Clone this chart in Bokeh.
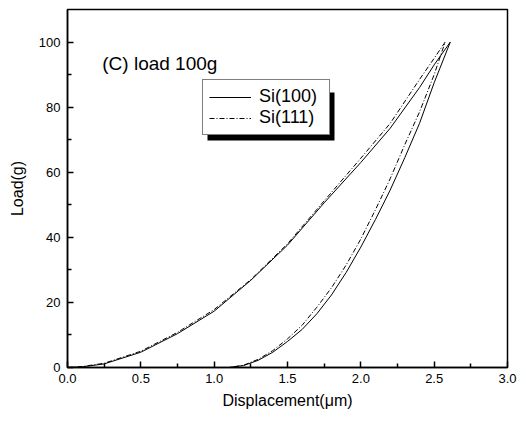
from bokeh.plotting import figure
from bokeh.models import Range1d, FixedTicker, Legend, LegendItem, Label, BoxAnnotation
from bokeh.embed import file_html
from bokeh.resources import INLINE

# Loading / unloading curves (displacement in um, load in g)
load_x_100 = [0.0, 0.1, 0.25, 0.5, 0.75, 1.0, 1.25, 1.5, 1.75, 2.0, 2.2, 2.4, 2.5, 2.61]
load_y_100 = [0.0, 0.2, 1.1, 4.7, 10.4, 17.3, 26.8, 37.6, 50.6, 63.0, 73.5, 86.0, 93.0, 100.0]
unload_x_100 = [2.61, 2.5, 2.4, 2.3, 2.2, 2.1, 2.0, 1.9, 1.8, 1.7, 1.6, 1.5, 1.4, 1.3, 1.2, 1.1]
unload_y_100 = [100.0, 87.5, 75.0, 64.5, 54.5, 45.5, 37.0, 29.2, 22.3, 16.5, 11.7, 8.0, 4.7, 2.2, 0.6, 0.0]

load_x_111 = [0.0, 0.1, 0.25, 0.5, 0.75, 1.0, 1.25, 1.5, 1.75, 2.0, 2.2, 2.4, 2.5, 2.575]
load_y_111 = [0.0, 0.3, 1.3, 5.0, 10.8, 17.8, 27.0, 38.0, 51.2, 64.3, 75.0, 88.5, 95.0, 100.0]
unload_x_111 = [2.575, 2.5, 2.4, 2.3, 2.2, 2.1, 2.0, 1.9, 1.8, 1.7, 1.6, 1.5, 1.4, 1.3, 1.2, 1.1]
unload_y_111 = [100.0, 90.0, 78.5, 68.5, 58.0, 48.5, 39.5, 31.5, 24.5, 18.5, 13.0, 8.8, 5.2, 2.5, 0.7, 0.0]

series_names = ["Si(100)", "Si(111)"]
x_ticks = [0.0, 0.5, 1.0, 1.5, 2.0, 2.5, 3.0]
x_minor = [0.25, 0.75, 1.25, 1.75, 2.25, 2.75]
y_ticks = [0, 20, 40, 60, 80, 100]
y_minor = [10, 30, 50, 70, 90]

FONT = "Liberation Sans"

p = figure(width=524, height=420, output_backend="svg", toolbar_location=None,
           x_range=Range1d(0, 3), y_range=Range1d(0, 110),
           min_border_left=67, min_border_right=17, min_border_top=9, min_border_bottom=53)
p.grid.visible = False
p.outline_line_color = "black"
p.outline_line_width = 1.5
p.background_fill_color = "white"

r1 = p.line(load_x_100 + unload_x_100[1:], load_y_100 + unload_y_100[1:],
            line_color="black", line_width=1)
r2 = p.line(load_x_111 + unload_x_111[1:], load_y_111 + unload_y_111[1:],
            line_color="black", line_width=1, line_dash="5 2 1 2")

p.xaxis.ticker = FixedTicker(ticks=x_ticks, minor_ticks=x_minor)
p.yaxis.ticker = FixedTicker(ticks=y_ticks, minor_ticks=y_minor)
p.xaxis.major_label_overrides = {t: f"{t:.1f}" for t in x_ticks}

for ax in (p.xaxis[0], p.yaxis[0]):
    ax.axis_line_width = 1.5
    ax.axis_line_color = "black"
    ax.major_tick_in = 6
    ax.major_tick_out = 0
    ax.minor_tick_in = 4
    ax.minor_tick_out = 0
    ax.major_tick_line_width = 1.5
    ax.minor_tick_line_width = 1.5
    ax.major_label_text_font = FONT
    ax.major_label_text_font_size = "13px"
    ax.major_label_text_color = "black"
    ax.axis_label_text_font = FONT
    ax.axis_label_text_font_size = "16px"
    ax.axis_label_text_font_style = "normal"
    ax.axis_label_text_color = "black"

p.xaxis.axis_label = "Displacement(\u03bcm)"
p.yaxis.axis_label = "Load(g)"
p.xaxis.major_label_standoff = 6
p.yaxis.major_label_standoff = 7
p.xaxis.axis_label_standoff = 6
p.yaxis.axis_label_standoff = 10

# legend shadow
shadow = BoxAnnotation(left=140, right=267, bottom=227, top=275,
                       left_units="screen", right_units="screen",
                       bottom_units="screen", top_units="screen",
                       fill_color="black", fill_alpha=1.0, line_color=None)
p.add_layout(shadow)

legend = Legend(items=[LegendItem(label=series_names[0], renderers=[r1]),
                       LegendItem(label=series_names[1], renderers=[r2])],
                location=(135, 232), orientation="vertical",
                label_text_font=FONT, label_text_font_size="18px", label_text_color="black",
                glyph_width=42, glyph_height=18, label_height=18, label_width=64,
                label_standoff=8, spacing=0, padding=6, margin=0,
                border_line_color="black", border_line_width=1,
                background_fill_color="white", background_fill_alpha=1.0)
p.add_layout(legend)

title = Label(x=0.237, y=93.4, text="(C) load 100g", text_font=FONT,
              text_font_size="19px", text_color="black", text_baseline="alphabetic")
p.add_layout(title)

open("out.html", "w").write(file_html(p, INLINE))
